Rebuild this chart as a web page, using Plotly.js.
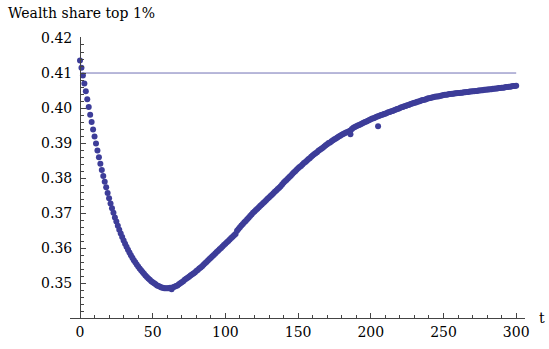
<!DOCTYPE html>
<html>
<head>
<meta charset="utf-8">
<script src="https://cdn.plot.ly/plotly-3.0.1.min.js"></script>
<style>html,body{margin:0;padding:0;background:#fff;}#chart{width:549px;height:349px;}</style>
</head>
<body>
<div id="chart"></div>
<script>
// time periods 0..300
const tVals = [];
for (let t = 0; t <= 300; t++) tVals.push(t);
// wealth share of top 1% (one value per period)
const shareVals = [
  0.4136,0.4115,0.4093,0.4070,0.4048,0.4025,0.4003,0.3981,0.3960,0.3939,
  0.3919,0.3899,0.3879,0.3860,0.3841,0.3823,0.3806,0.3790,0.3774,0.3758,
  0.3743,0.3728,0.3714,0.3701,0.3688,0.3676,0.3664,0.3653,0.3642,0.3632,
  0.3622,0.3613,0.3604,0.3596,0.3588,0.3580,0.3573,0.3566,0.3560,0.3554,
  0.3548,0.3542,0.3537,0.3532,0.3527,0.3522,0.3518,0.3514,0.3510,0.3506,
  0.3503,0.3500,0.3497,0.3494,0.3492,0.3490,0.3488,0.3487,0.3486,0.3486,
  0.3486,0.3486,0.3487,0.3483,0.3489,0.3490,0.3492,0.3494,0.3497,0.3500,
  0.3503,0.3506,0.3510,0.3513,0.3516,0.3519,0.3522,0.3525,0.3528,0.3531,
  0.3535,0.3538,0.3542,0.3545,0.3549,0.3553,0.3557,0.3561,0.3565,0.3569,
  0.3573,0.3577,0.3581,0.3585,0.3589,0.3593,0.3597,0.3601,0.3605,0.3609,
  0.3613,0.3617,0.3621,0.3625,0.3629,0.3633,0.3637,0.3641,0.3650,0.3655,
  0.3660,0.3665,0.3669,0.3674,0.3678,0.3683,0.3687,0.3692,0.3696,0.3701,
  0.3705,0.3709,0.3713,0.3717,0.3721,0.3725,0.3729,0.3733,0.3737,0.3741,
  0.3745,0.3749,0.3753,0.3757,0.3761,0.3765,0.3769,0.3773,0.3777,0.3782,
  0.3787,0.3791,0.3795,0.3799,0.3803,0.3807,0.3812,0.3816,0.3820,0.3824,
  0.3828,0.3832,0.3835,0.3839,0.3843,0.3846,0.3850,0.3854,0.3857,0.3861,
  0.3865,0.3868,0.3871,0.3874,0.3878,0.3881,0.3884,0.3887,0.3890,0.3894,
  0.3897,0.3900,0.3902,0.3905,0.3908,0.3911,0.3913,0.3916,0.3919,0.3921,
  0.3924,0.3926,0.3928,0.3930,0.3932,0.3934,0.3936,0.3940,0.3944,0.3946,
  0.3948,0.3950,0.3952,0.3954,0.3956,0.3958,0.3960,0.3962,0.3964,0.3966,
  0.3968,0.3970,0.3971,0.3973,0.3975,0.3977,0.3978,0.3980,0.3981,0.3983,
  0.3984,0.3986,0.3988,0.3989,0.3991,0.3992,0.3994,0.3995,0.3997,0.3998,
  0.4000,0.4002,0.4003,0.4005,0.4006,0.4008,0.4009,0.4011,0.4012,0.4014,
  0.4015,0.4016,0.4018,0.4019,0.4020,0.4022,0.4023,0.4024,0.4025,0.4027,
  0.4028,0.4029,0.4030,0.4031,0.4032,0.4033,0.4033,0.4034,0.4035,0.4036,
  0.4037,0.4038,0.4038,0.4039,0.4040,0.4040,0.4041,0.4041,0.4042,0.4042,
  0.4043,0.4043,0.4044,0.4044,0.4045,0.4045,0.4046,0.4046,0.4047,0.4047,
  0.4048,0.4048,0.4049,0.4049,0.4050,0.4050,0.4051,0.4051,0.4052,0.4052,
  0.4053,0.4053,0.4054,0.4054,0.4055,0.4055,0.4056,0.4056,0.4057,0.4057,
  0.4058,0.4058,0.4059,0.4060,0.4060,0.4061,0.4061,0.4062,0.4063,0.4063,
  0.4064
];
// stray points
const strayT = [186, 205];
const strayVals = [0.3925, 0.3948];
// reference level
const refT = [0, 300];
const refVals = [0.41, 0.41];

const yTicks = [0.35,0.36,0.37,0.38,0.39,0.40,0.41,0.42];
const xTicks = [0,50,100,150,200,250,300];

const ptColor = '#3d3d99';
const fnt = {family: 'DejaVu Serif, serif', size: 14, color: '#000'};

const traces = [
  {x: refT, y: refVals, mode: 'lines', line: {color: '#7070b4', width: 1}, hoverinfo: 'skip'},
  {x: tVals, y: shareVals, mode: 'markers', marker: {color: ptColor, size: 6}},
  {x: strayT, y: strayVals, mode: 'markers', marker: {color: ptColor, size: 6}}
];

const layout = {
  width: 549, height: 349,
  margin: {l: 70, r: 24, t: 37, b: 31, pad: 0},
  paper_bgcolor: '#fff', plot_bgcolor: '#fff',
  showlegend: false,
  font: fnt,
  title: {text: 'Wealth share top 1%', font: fnt, xref: 'container', yref: 'container',
          x: 8/549, xanchor: 'left', y: 1 - 13/349, yanchor: 'middle'},
  xaxis: {
    range: [-6.88, 306.05], showgrid: false, zeroline: false,
    showline: true, linecolor: '#444', linewidth: 1,
    tickmode: 'array', tickvals: xTicks, ticktext: xTicks.map(String),
    ticks: 'inside', ticklen: 5, tickcolor: '#444', tickwidth: 1,
    minor: {dtick: 10, tick0: 0, ticks: 'inside', ticklen: 3, tickcolor: '#444', showgrid: false},
    tickfont: fnt, ticklabelstandoff: 1
  },
  yaxis: {
    range: [0.3401, 0.42028], showgrid: false, zeroline: false,
    anchor: 'free', position: 6.88/312.93,
    showline: true, linecolor: '#444', linewidth: 1,
    tickmode: 'array', tickvals: yTicks, ticktext: yTicks.map(v => v.toFixed(2)),
    ticks: 'inside', ticklen: 5, tickcolor: '#444', tickwidth: 1,
    minor: {dtick: 0.002, tick0: 0.34, ticks: 'inside', ticklen: 3, tickcolor: '#444', showgrid: false},
    tickfont: fnt, ticklabelstandoff: 5
  },
  annotations: [
    {text: 't', xref: 'paper', yref: 'paper', x: (542-70)/455, y: 0, xanchor: 'center', yanchor: 'middle',
     showarrow: false, font: fnt}
  ]
};

Plotly.newPlot('chart', traces, layout, {displayModeBar: false, staticPlot: true});
</script>
</body>
</html>
